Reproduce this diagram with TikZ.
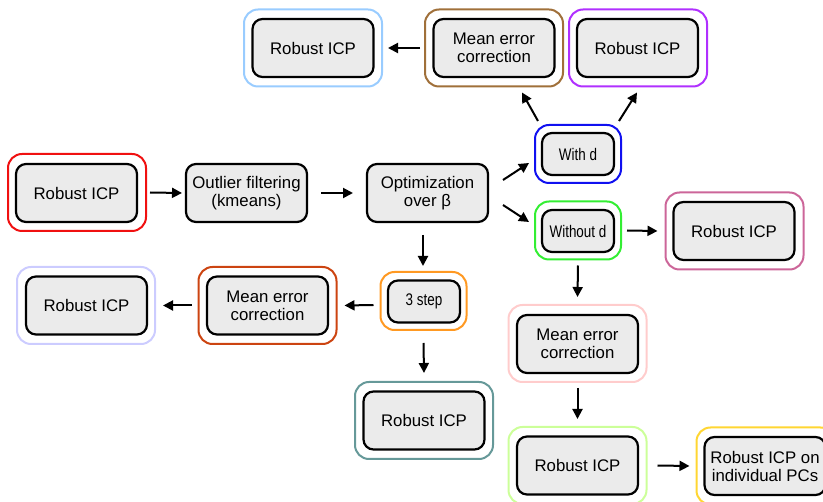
\documentclass[tikz,border=0pt]{standalone}
\usepackage{fontspec}
\setmainfont{Liberation Sans}
\usetikzlibrary{arrows.meta}
\definecolor{cRed}{HTML}{F01010}
\definecolor{cBlue}{HTML}{1010F0}
\definecolor{cGreen}{HTML}{33EE33}
\definecolor{cRose}{HTML}{CC6699}
\definecolor{cSky}{HTML}{99CCFF}
\definecolor{cBrown}{HTML}{A0703A}
\definecolor{cPurple}{HTML}{B030FF}
\definecolor{cLav}{HTML}{CCCCFF}
\definecolor{cOrRed}{HTML}{CC4411}
\definecolor{cOrange}{HTML}{FF9922}
\definecolor{cTeal}{HTML}{669999}
\definecolor{cLPink}{HTML}{FFCCCC}
\definecolor{cLGreen}{HTML}{CCFF99}
\definecolor{cYellow}{HTML}{FFD633}
\definecolor{boxfill}{HTML}{EBEBEB}
\begin{document}
\begin{tikzpicture}[x=1pt,y=-1pt,
  outerbox/.style={draw=#1, line width=2pt, rounded corners=14pt, outer sep=0pt, inner sep=0pt},
  innerbox/.style={draw=black, fill=boxfill, line width=2.2pt, rounded corners=10pt, outer sep=0pt, inner sep=0pt,
     align=center, font=\fontsize{16.8}{18}\selectfont},
  bigin/.style={innerbox, minimum width=121pt, minimum height=58pt},
  bigout/.style={outerbox=#1, minimum width=138pt, minimum height=77pt},
  smallin/.style={innerbox, minimum width=72pt, minimum height=42pt},
  smallout/.style={outerbox=#1, minimum width=86pt, minimum height=58pt},
  arr/.style={line width=2pt, -{Triangle[length=10pt,width=10pt]}}]
\useasboundingbox (0,0) rectangle (823,502);
\newcommand\narrow[1]{\scalebox{0.8}[1]{#1}}
% left main row
\node[bigout=cRed] (r1o) at (77,192.5) {};
\node[bigin] (r1) at (76.5,193) {Robust ICP};
\node[bigin] (outl) at (246.5,193) {Outlier filtering\\(kmeans)};
\node[bigin] (opt) at (427.5,193) {Optimization\\over β};
% with / without d
\node[smallout=cBlue] (withdo) at (578,154) {};
\node[smallin] (withd) at (578,154) {\narrow{With d}};
\node[smallout=cGreen] (withouto) at (578,230.5) {};
\node[smallin] (without) at (578,231) {\narrow{Without d}};
\node[bigout=cRose] (rroseo) at (734.5,231) {};
\node[bigin] (rrose) at (734,231) {Robust ICP};
% top row
\node[bigout=cSky] (rskyo) at (313,48) {};
\node[bigin] (rsky) at (313,48) {Robust ICP};
\node[bigout=cBrown] (mbrowno) at (494,48) {};
\node[bigin] (mbrown) at (494,48) {Mean error\\correction};
\node[bigout=cPurple] (rpurpleo) at (638,48) {};
\node[bigin] (rpurple) at (637.5,48) {Robust ICP};
% 3 step branch
\node[smallout=cOrange] (stepo) at (423.5,301) {};
\node[smallin] (step3) at (424,301.5) {\narrow{3 step}};
\node[bigout=cOrRed] (mredo) at (267.5,305.5) {};
\node[bigin] (mred) at (267.5,305.5) {Mean error\\correction};
\node[bigout=cLav] (rlavo) at (86,305.5) {};
\node[bigin] (rlav) at (86.5,305.5) {Robust ICP};
\node[bigout=cTeal] (rtealo) at (424,420.5) {};
\node[bigin] (rteal) at (424,420.5) {Robust ICP};
% without d branch
\node[bigout=cLPink] (mpinko) at (577.5,343.5) {};
\node[bigin] (mpink) at (577.5,344) {Mean error\\correction};
\node[bigout=cLGreen] (rgreeno) at (577.5,465.5) {};
\node[bigin] (rgreen) at (577.5,465.5) {Robust ICP};
\node[bigout=cYellow] (ryellowo) at (765.5,466) {};
\node[bigin] (ryellow) at (765,466) {Robust ICP on\\individual PCs};
% arrows
\draw[arr] ([xshift=4pt]r1o.east) -- ([xshift=-4pt]outl.west);
\draw[arr] ([xshift=14pt]outl.east) -- ([xshift=-14pt]opt.west);
\draw[arr] ([shift={(15,-13)}]opt.east) -- ([shift={(-6,9)}]withdo.west);
\draw[arr] ([shift={(15,12)}]opt.east) -- ([shift={(-6,-8.5)}]withouto.west);
\draw[arr] ([xshift=6pt]withouto.east) -- ([xshift=-8pt]rroseo.west);
\draw[arr] ([shift={(-40,-4)}]withdo.north) -- ([shift={(28,6)}]mbrowno.south);
\draw[arr] ([shift={(41,-4)}]withdo.north) -- ([shift={(-1,6)}]rpurpleo.south);
\draw[arr] ([xshift=-5pt]mbrowno.west) -- ([xshift=6pt]rskyo.east);
\draw[arr] ([shift={(-4.5,13)}]opt.south) -- ([shift={(-0.5,-6)}]stepo.north);
\draw[arr] ([shift={(-7,4)}]stepo.west) -- ([xshift=8pt]mredo.east);
\draw[arr] ([xshift=-7pt]mredo.west) -- ([xshift=8pt]rlavo.east);
\draw[arr] ([yshift=-13pt]stepo.south) -- ([yshift=9pt]rtealo.north);
\draw[arr] ([yshift=-6pt]withouto.south) -- ([yshift=8pt]mpinko.north);
\draw[arr] ([yshift=-6pt]mpinko.south) -- ([yshift=8pt]rgreeno.north);
\draw[arr] ([xshift=11pt]rgreeno.east) -- ([xshift=-7pt]ryellowo.west);
\end{tikzpicture}
\end{document}
